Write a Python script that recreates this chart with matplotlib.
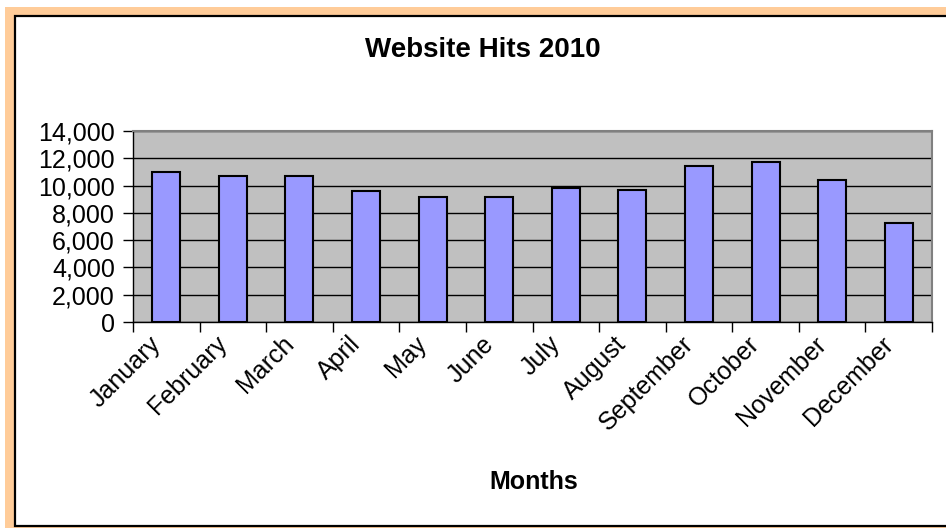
import matplotlib
matplotlib.use("Agg")
import matplotlib.pyplot as plt
from matplotlib.patches import Rectangle
from matplotlib.ticker import FuncFormatter, FixedLocator
from matplotlib.transforms import ScaledTranslation
import numpy as np

months = ["January", "February", "March", "April", "May", "June", "July",
          "August", "September", "October", "November", "December"]
hits = [11000, 10700, 10700, 9600, 9150, 9150, 9800, 9700, 11400, 11700, 10400, 7250]
yticks = [0, 2000, 4000, 6000, 8000, 10000, 12000, 14000]

plt.rcParams['font.family'] = ['Liberation Sans', 'DejaVu Sans']

W, H = 946, 528
fig = plt.figure(figsize=(W / 100, H / 100), dpi=100)
fig.patch.set_facecolor("white")

# orange frame
fig.add_artist(Rectangle((5 / W, 0), 1, (H - 7) / H, transform=fig.transFigure,
                         facecolor="#FFCC99", edgecolor="none", zorder=-2))
# white chart area with black border
fig.add_artist(Rectangle((14.5 / W, 2 / H), 1.0, (H - 16 - 2) / H, transform=fig.transFigure,
                         facecolor="white", edgecolor="black", linewidth=1.6, zorder=-1))

left, right, top, bottom = 133, 932, 131, 322
ax = fig.add_axes([left / W, (H - bottom) / H, (right - left) / W, (bottom - top) / H])
ax.set_zorder(1)
ax.set_facecolor("#C0C0C0")

x = np.arange(len(months))
ax.bar(x, hits, width=0.42, color="#9999FF", edgecolor="black", linewidth=1.5, zorder=3)

ax.set_xlim(-0.5, len(months) - 0.5)
ax.set_ylim(0, 14000)
ax.yaxis.set_major_locator(FixedLocator(yticks))
ax.yaxis.set_major_formatter(FuncFormatter(lambda v, p: f"{int(v):,}"))
ax.yaxis.grid(True, color="black", linewidth=1.0, zorder=1)
ax.set_axisbelow(True)

ax.set_xticks(x)
ax.set_xticklabels(months, rotation=45, ha="right", rotation_mode="anchor", fontsize=18)
ax.tick_params(axis="x", which="major", length=0, pad=12)
ax.set_xticks(np.arange(-0.5, len(months) + 0.5, 1), minor=True)
ax.tick_params(axis="x", which="minor", length=7, width=1, color="black", direction="out")
ax.tick_params(axis="y", length=7, width=1, direction="out", labelsize=18, pad=6)

offset = ScaledTranslation(-0.18, 0.07, fig.dpi_scale_trans)
for lbl in ax.get_xticklabels():
    lbl.set_transform(lbl.get_transform() + offset)

for s in ["left", "bottom"]:
    ax.spines[s].set_color("black")
    ax.spines[s].set_linewidth(1.0)
for s in ["top", "right"]:
    ax.spines[s].set_color("#808080")
    ax.spines[s].set_linewidth(1.5)

fig.text(483 / W, (H - 50) / H, "Website Hits 2010", ha="center", va="center",
         fontsize=20, fontweight="bold")
fig.text(534 / W, (H - 482) / H, "Months", ha="center", va="center",
         fontsize=18, fontweight="bold")

fig.savefig("out.png", dpi=100, facecolor=fig.get_facecolor())
